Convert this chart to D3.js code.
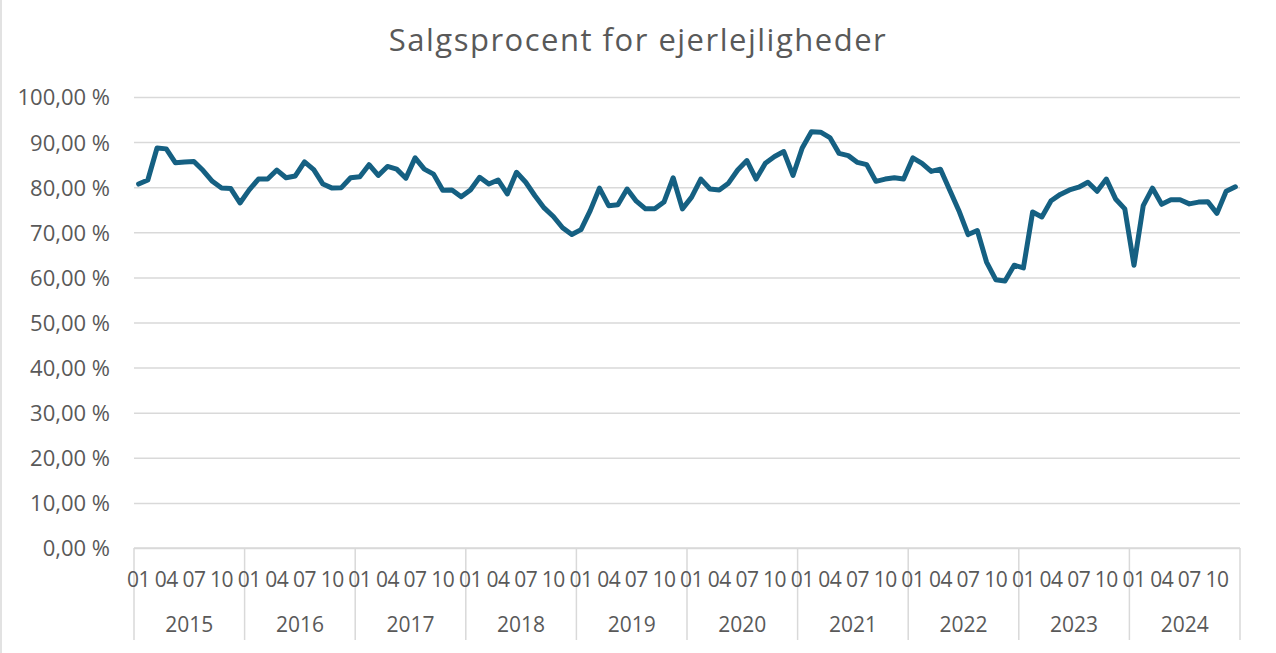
<!DOCTYPE html>
<html>
<head>
<meta charset="utf-8">
<script src="https://cdn.jsdelivr.net/npm/d3@7"></script>
<style>
  body { margin: 0; background: #fff; }
  text { font-family: "Open Sans", "Liberation Sans", sans-serif; fill: #595959; }
</style>
</head>
<body>
<div id="chart"></div>
<script>
// Salgsprocent for ejerlejligheder, monthly 2015-2024

const years = [2015, 2016, 2017, 2018, 2019, 2020, 2021, 2022, 2023, 2024];
const monthLabels = ["01", "04", "07", "10"];
const yTicks = [0, 10, 20, 30, 40, 50, 60, 70, 80, 90, 100];

// one value per month
const values2015 = [80.7, 81.6, 88.7, 88.5, 85.4, 85.6, 85.7, 83.7, 81.3, 79.8, 79.7, 76.5];
const values2016 = [79.4, 81.8, 81.8, 83.8, 82.1, 82.5, 85.6, 83.9, 80.7, 79.8, 79.9, 82.1];
const values2017 = [82.3, 85.0, 82.6, 84.6, 84.0, 82.0, 86.5, 84.0, 82.9, 79.3, 79.4, 77.9];
const values2018 = [79.4, 82.2, 80.7, 81.6, 78.5, 83.3, 81.1, 78.1, 75.4, 73.5, 71.0, 69.5];
const values2019 = [70.6, 74.8, 79.8, 75.9, 76.1, 79.6, 76.9, 75.2, 75.2, 76.7, 82.1, 75.2];
const values2020 = [77.8, 81.8, 79.6, 79.4, 80.9, 83.8, 85.9, 81.8, 85.3, 86.8, 87.9, 82.6];
const values2021 = [88.7, 92.3, 92.2, 91.0, 87.5, 87.0, 85.5, 85.0, 81.3, 81.8, 82.1, 81.8];
const values2022 = [86.5, 85.3, 83.5, 84.0, 79.4, 74.8, 69.5, 70.4, 63.4, 59.5, 59.2, 62.7];
const values2023 = [62.1, 74.5, 73.4, 77.0, 78.4, 79.4, 80.0, 81.1, 79.1, 81.8, 77.4, 75.2];
const values2024 = [62.7, 75.9, 79.8, 76.2, 77.2, 77.2, 76.3, 76.7, 76.8, 74.2, 79.1, 80.1];

const allValues = [].concat(values2015, values2016, values2017, values2018, values2019,
                            values2020, values2021, values2022, values2023, values2024);

const dataset = allValues.map((v, i) => ({
  year: years[Math.floor(i / 12)],
  month: i % 12 + 1,
  key: i,
  value: v
}));

const W = 1276, H = 653;
const margin = {top: 97, right: 36, bottom: 105, left: 134};
const width = W - margin.left - margin.right,
      height = H - margin.top - margin.bottom;

const svgRoot = d3.select("#chart")
  .append("svg")
    .attr("width", W)
    .attr("height", H);

// thin frame at the left edge
svgRoot.append("line")
  .attr("x1", 1).attr("x2", 1).attr("y1", 0).attr("y2", H)
  .attr("stroke", "#d9d9d9").attr("stroke-width", 1.5);

const svg = svgRoot.append("g")
    .attr("transform", `translate(${margin.left},${margin.top})`);

// title
svgRoot.append("text")
  .attr("x", 638)
  .attr("y", 51)
  .attr("text-anchor", "middle")
  .attr("font-size", "31px")
  .attr("letter-spacing", "1.5px")
  .text("Salgsprocent for ejerlejligheder");

// x scale: one band per month
const x = d3.scaleBand()
  .domain(dataset.map(d => d.key))
  .range([0, width])
  .padding(0);

const y = d3.scaleLinear()
  .domain([0, 100])
  .range([height, 0]);

// gridlines + y labels
const yAxis = svg.append("g")
  .call(d3.axisLeft(y).tickValues(yTicks).tickSize(-width)
    .tickFormat(d => d3.format(".2f")(d).replace(".", ",") + " %"));
yAxis.select(".domain").remove();
yAxis.selectAll(".tick line")
  .attr("stroke", "#d9d9d9")
  .attr("stroke-width", 1.5);
yAxis.selectAll(".tick text")
  .attr("x", -24)
  .attr("dy", "0.36em")
  .attr("font-size", "22px")
  .attr("fill", "#595959")
  .attr("font-family", null);

// x axis base line
svg.append("line")
  .attr("x1", 0).attr("x2", width)
  .attr("y1", height).attr("y2", height)
  .attr("stroke", "#d9d9d9").attr("stroke-width", 1.5);

// year separators
const yearWidth = x.bandwidth() * 12;
svg.selectAll("yearSep")
  .data(d3.range(years.length + 1))
  .enter()
  .append("line")
    .attr("x1", i => i * yearWidth)
    .attr("x2", i => i * yearWidth)
    .attr("y1", height)
    .attr("y2", height + 92)
    .attr("stroke", "#d9d9d9")
    .attr("stroke-width", 1.5);

// month labels (01, 04, 07, 10)
const monthTicks = dataset.filter(d => (d.month - 1) % 3 === 0);
svg.selectAll("monthLabels")
  .data(monthTicks)
  .enter()
  .append("text")
    .attr("x", d => x(d.key) + x.bandwidth() / 2)
    .attr("y", height + 39)
    .attr("text-anchor", "middle")
    .attr("font-size", "21px")
    .attr("letter-spacing", "-0.5px")
    .text(d => monthLabels[(d.month - 1) / 3]);

// year labels
svg.selectAll("yearLabels")
  .data(years)
  .enter()
  .append("text")
    .attr("x", (d, i) => (i + 0.5) * yearWidth)
    .attr("y", height + 84)
    .attr("text-anchor", "middle")
    .attr("font-size", "21px")
    .text(d => d);

// the series line
const line = d3.line()
  .x(d => x(d.key) + x.bandwidth() / 2)
  .y(d => y(d.value));

svg.append("path")
  .datum(dataset)
  .attr("fill", "none")
  .attr("stroke", "#156082")
  .attr("stroke-width", 5)
  .attr("stroke-linejoin", "round")
  .attr("stroke-linecap", "round")
  .attr("d", line);
</script>
</body>
</html>
